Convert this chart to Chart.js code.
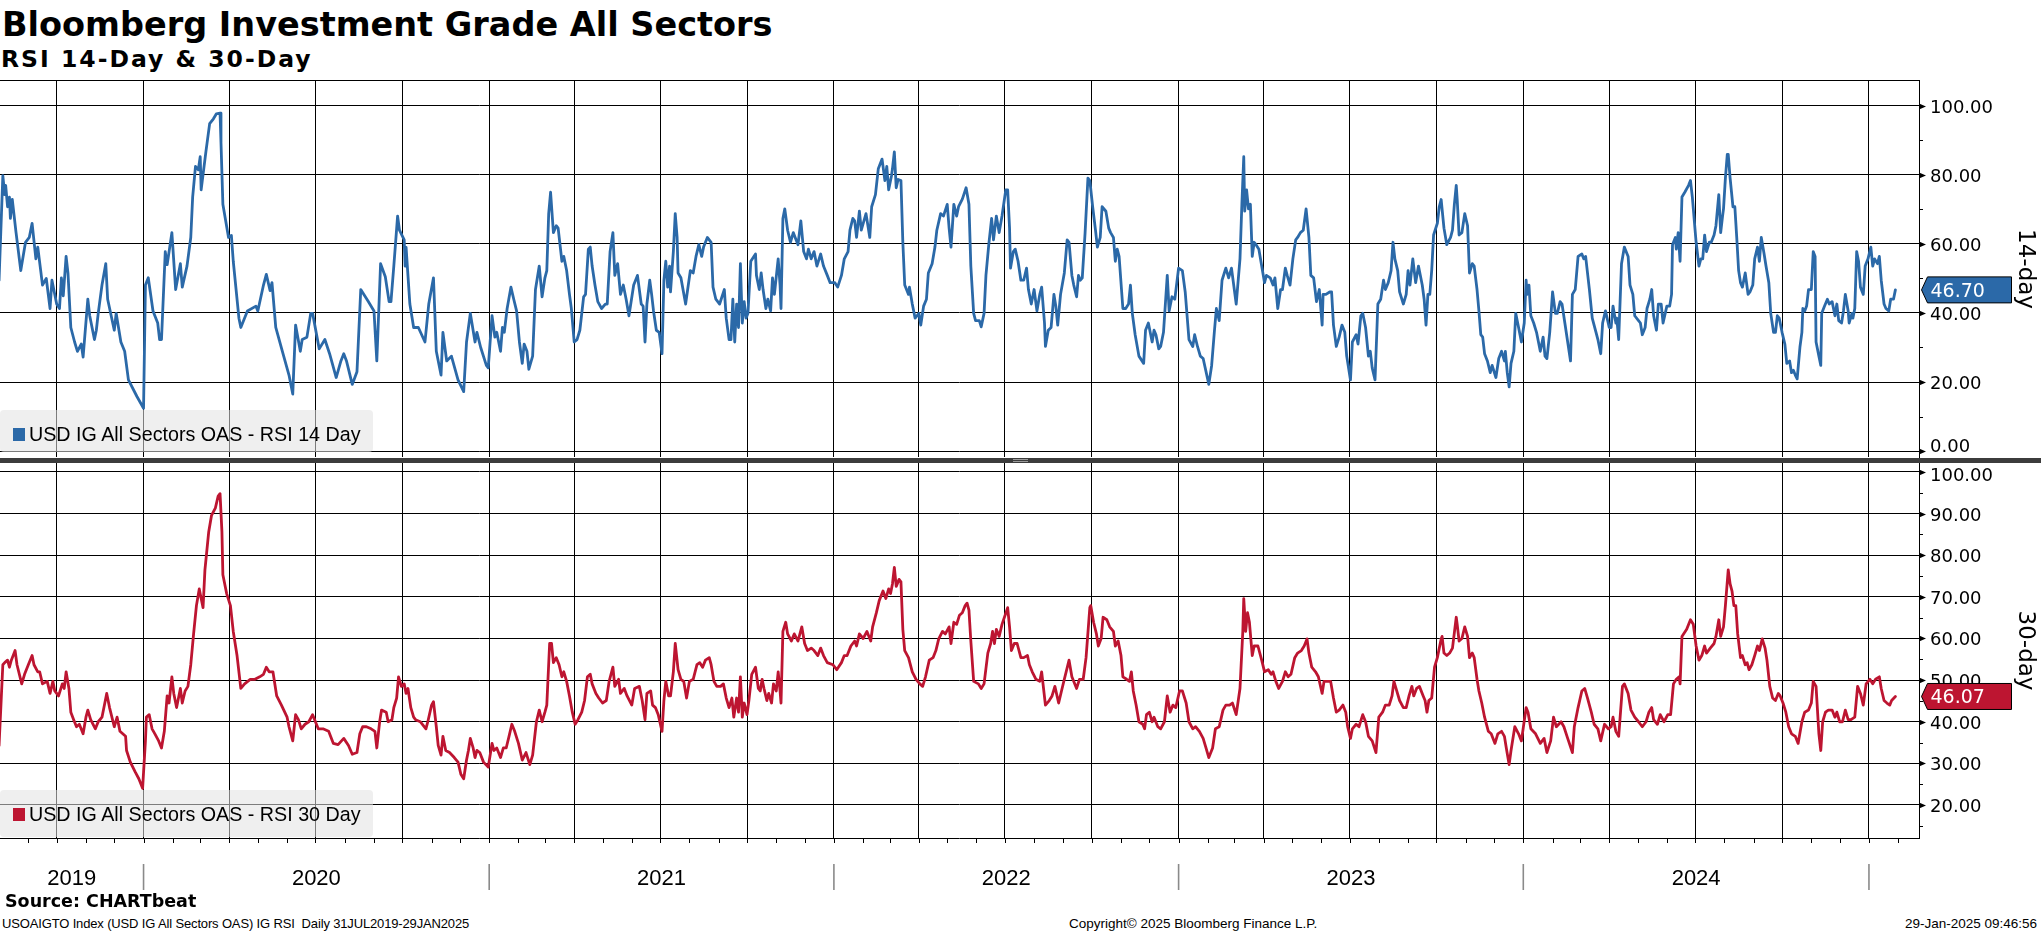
<!DOCTYPE html>
<html>
<head>
<meta charset="utf-8">
<script src="https://cdn.jsdelivr.net/npm/chart.js@4.4.1/dist/chart.umd.min.js"></script>
<style>
html, body { margin: 0; padding: 0; background: #fff; }
body { width: 2041px; height: 932px; position: relative; overflow: hidden; font-family: "DejaVu Sans", sans-serif; color: #000; }
.abs { position: absolute; white-space: nowrap; }
#title { left: 2px; top: 8px; font: bold 33.5px/1 "DejaVu Sans"; }
#subtitle { left: 1px; top: 48px; font: bold 23.5px/1 "DejaVu Sans"; letter-spacing: 2px; }
canvas { position: absolute; left: 0; }
#cTop { top: 78px; }
#cBot { top: 460px; }
#topLine { left: 0; top: 80px; width: 1920px; height: 1px; background: #000; }
#sep { left: 0; top: 458px; width: 2041px; height: 5px; background: #3c3c3c; }
#grip { left: 1013px; top: 459px; width: 15px; height: 1px; border-bottom: 1px solid #9a9a9a; border-top: 1px solid #9a9a9a; }
.legend { position: absolute; left: 0; width: 373px; background: rgba(226,226,226,0.55); border-radius: 4px; }
.legend .sw { position: absolute; left: 13px; top: 18px; width: 12px; height: 13px; }
.legend .tx { position: absolute; left: 29px; top: 15px; font: 19.7px/1 "Liberation Sans"; white-space: nowrap; }
#lgTop { top: 410px; height: 42px; }
#lgBot { top: 790px; height: 47px; }
#source { left: 5px; top: 893px; font: bold 17.5px/1 "DejaVu Sans"; }
#foot1 { left: 2px; top: 917px; font: 13px/1 "Liberation Sans"; letter-spacing: -0.15px; }
#foot2 { left: 1069px; top: 917px; font: 13.5px/1 "Liberation Sans"; }
#foot3 { right: 4px; top: 917px; font: 13.5px/1 "Liberation Sans"; }
</style>
</head>
<body>
<div id="title" class="abs">Bloomberg Investment Grade All Sectors</div>
<div id="subtitle" class="abs">RSI 14-Day &amp; 30-Day</div>
<canvas id="cTop" width="2041" height="382"></canvas>
<canvas id="cBot" width="2041" height="435"></canvas>
<div id="topLine" class="abs"></div>
<div id="sep" class="abs"></div>
<div id="grip" class="abs"></div>
<div id="lgTop" class="legend"><div class="sw" style="background:#2b69a8"></div><div class="tx">USD IG All Sectors OAS - RSI 14 Day</div></div>
<div id="lgBot" class="legend"><div class="sw" style="background:#bd1531"></div><div class="tx">USD IG All Sectors OAS - RSI 30 Day</div></div>
<div id="source" class="abs">Source: CHARTbeat</div>
<div id="foot1" class="abs">USOAIGTO Index (USD IG All Sectors OAS) IG RSI&nbsp; Daily 31JUL2019-29JAN2025</div>
<div id="foot2" class="abs">Copyright© 2025 Bloomberg Finance L.P.</div>
<div id="foot3" class="abs">29-Jan-2025 09:46:56</div>
<script>
// RSI 14-day
const dates14 = [
'2019-08-01','2019-08-05','2019-08-07','2019-08-08','2019-08-10','2019-08-12','2019-08-13','2019-08-15','2019-08-19','2019-08-24','2019-08-29','2019-09-02','2019-09-05','2019-09-09','2019-09-11','2019-09-16','2019-09-20','2019-09-24','2019-09-26','2019-10-01','2019-10-04','2019-10-06','2019-10-08','2019-10-11','2019-10-13','2019-10-16','2019-10-20','2019-10-23','2019-10-27','2019-10-29','2019-11-03','2019-11-05','2019-11-10','2019-11-12','2019-11-14','2019-11-18','2019-11-22','2019-11-24','2019-12-01','2019-12-03','2019-12-08','2019-12-12','2019-12-16','2019-12-25',
'2020-01-01','2020-01-03','2020-01-06','2020-01-11','2020-01-16','2020-01-18','2020-01-20','2020-01-24','2020-01-26','2020-01-31','2020-02-04','2020-02-09','2020-02-11','2020-02-16','2020-02-20','2020-02-22','2020-02-25','2020-02-28','2020-03-01','2020-03-02','2020-03-07','2020-03-11','2020-03-15','2020-03-18','2020-03-22','2020-03-23','2020-03-25','2020-03-31','2020-04-03','2020-04-05','2020-04-11','2020-04-13','2020-04-20','2020-04-29','2020-05-01','2020-05-07','2020-05-10','2020-05-14','2020-05-16','2020-05-20','2020-05-27','2020-06-03','2020-06-07','2020-06-10','2020-06-15','2020-06-17','2020-06-22','2020-06-26','2020-06-28','2020-07-05','2020-07-11','2020-07-16','2020-07-23','2020-07-28','2020-07-31','2020-08-03','2020-08-09','2020-08-14','2020-08-18','2020-08-26','2020-09-01','2020-09-04','2020-09-08','2020-09-13','2020-09-17','2020-09-19','2020-09-22','2020-09-26','2020-09-28','2020-10-03','2020-10-04','2020-10-05','2020-10-09','2020-10-13','2020-10-18','2020-10-25','2020-10-29','2020-11-03','2020-11-06','2020-11-11','2020-11-13','2020-11-17','2020-11-22','2020-11-29','2020-12-05','2020-12-08','2020-12-12','2020-12-17','2020-12-19','2020-12-23','2020-12-29','2020-12-31',
'2021-01-04','2021-01-07','2021-01-09','2021-01-13','2021-01-15','2021-01-17','2021-01-20','2021-01-24','2021-01-27','2021-01-30','2021-02-02','2021-02-05','2021-02-07','2021-02-10','2021-02-12','2021-02-16','2021-02-19','2021-02-23','2021-02-26','2021-03-01','2021-03-03','2021-03-05','2021-03-07','2021-03-10','2021-03-13','2021-03-15','2021-03-19','2021-03-21','2021-03-24','2021-03-27','2021-03-29','2021-04-01','2021-04-04','2021-04-07','2021-04-11','2021-04-13','2021-04-16','2021-04-18','2021-04-20','2021-04-23','2021-04-26','2021-04-30','2021-05-04','2021-05-06','2021-05-09','2021-05-12','2021-05-14','2021-05-17','2021-05-20','2021-05-23','2021-05-26','2021-05-29','2021-06-03','2021-06-07','2021-06-11','2021-06-13','2021-06-15','2021-06-17','2021-06-20','2021-06-22','2021-06-24','2021-06-27','2021-06-30','2021-07-03','2021-07-05','2021-07-07','2021-07-09','2021-07-11','2021-07-12','2021-07-15','2021-07-17','2021-07-19','2021-07-20','2021-07-23','2021-07-28','2021-08-02','2021-08-05','2021-08-08','2021-08-11','2021-08-14','2021-08-16','2021-08-20','2021-08-24','2021-08-26','2021-08-29','2021-09-02','2021-09-07','2021-09-09','2021-09-12','2021-09-14','2021-09-16','2021-09-18','2021-09-20','2021-09-22','2021-09-24','2021-09-26','2021-09-28','2021-09-30','2021-10-02','2021-10-05','2021-10-10','2021-10-11','2021-10-14','2021-10-16','2021-10-18','2021-10-21','2021-10-23','2021-10-26','2021-10-28','2021-10-30','2021-11-03','2021-11-05','2021-11-06','2021-11-08','2021-11-10','2021-11-13','2021-11-16','2021-11-19','2021-11-21','2021-11-24','2021-11-27','2021-11-30','2021-12-03','2021-12-05','2021-12-08','2021-12-11','2021-12-14','2021-12-18','2021-12-21','2021-12-25','2021-12-28',
'2022-01-02','2022-01-05','2022-01-09','2022-01-12','2022-01-16','2022-01-18','2022-01-21','2022-01-23','2022-01-25','2022-01-28','2022-01-30','2022-02-04','2022-02-08','2022-02-10','2022-02-14','2022-02-17','2022-02-21','2022-02-24','2022-02-26','2022-02-28','2022-03-03','2022-03-04','2022-03-06','2022-03-08','2022-03-10','2022-03-13','2022-03-15','2022-03-17','2022-03-21','2022-03-22','2022-03-25','2022-03-28','2022-04-01','2022-04-03','2022-04-06','2022-04-09','2022-04-11','2022-04-15','2022-04-18','2022-04-20','2022-04-24','2022-04-27','2022-05-01','2022-05-03','2022-05-05','2022-05-08','2022-05-11','2022-05-13','2022-05-17','2022-05-21','2022-05-24','2022-05-26','2022-05-29','2022-05-31','2022-06-04','2022-06-06','2022-06-09','2022-06-11','2022-06-14','2022-06-17','2022-06-19','2022-06-22','2022-06-25','2022-06-28','2022-07-02','2022-07-04','2022-07-06','2022-07-07','2022-07-10','2022-07-12','2022-07-15','2022-07-18','2022-07-21','2022-07-24','2022-07-26','2022-07-29','2022-08-01','2022-08-04','2022-08-07','2022-08-09','2022-08-12','2022-08-13','2022-08-16','2022-08-19','2022-08-22','2022-08-24','2022-08-26','2022-08-29','2022-09-02','2022-09-05','2022-09-07','2022-09-10','2022-09-12','2022-09-15','2022-09-17','2022-09-19','2022-09-21','2022-09-24','2022-09-27','2022-09-29','2022-10-02','2022-10-05','2022-10-07','2022-10-10','2022-10-12','2022-10-16','2022-10-19','2022-10-21','2022-10-24','2022-10-26','2022-10-28','2022-10-30','2022-11-03','2022-11-06','2022-11-09','2022-11-11','2022-11-13','2022-11-16','2022-11-20','2022-11-25','2022-11-27','2022-11-30','2022-12-04','2022-12-06','2022-12-08','2022-12-11','2022-12-13','2022-12-16','2022-12-20','2022-12-22','2022-12-25','2022-12-28',
'2023-01-01','2023-01-05','2023-01-08','2023-01-12','2023-01-16','2023-01-18','2023-01-21','2023-01-24','2023-01-27','2023-02-02','2023-02-05','2023-02-08','2023-02-10','2023-02-13','2023-02-16','2023-02-20','2023-02-23','2023-02-26','2023-03-03','2023-03-07','2023-03-09','2023-03-11','2023-03-12','2023-03-14','2023-03-16','2023-03-18','2023-03-20','2023-03-22','2023-03-24','2023-03-27','2023-03-30','2023-04-02','2023-04-04','2023-04-08','2023-04-11','2023-04-13','2023-04-16','2023-04-19','2023-04-21','2023-04-24','2023-04-26','2023-04-29','2023-05-02','2023-05-05','2023-05-07','2023-05-10','2023-05-13','2023-05-16','2023-05-19','2023-05-21','2023-05-24','2023-05-27','2023-05-30','2023-06-02','2023-06-03','2023-06-06','2023-06-10','2023-06-12','2023-06-14','2023-06-17','2023-06-20','2023-06-23','2023-06-26','2023-06-28','2023-07-02','2023-07-04','2023-07-08','2023-07-10','2023-07-13','2023-07-15','2023-07-18','2023-07-21','2023-07-23','2023-07-25','2023-07-28','2023-07-31','2023-08-03','2023-08-06','2023-08-08','2023-08-11','2023-08-14','2023-08-16','2023-08-18','2023-08-21','2023-08-23','2023-08-27','2023-08-30','2023-09-01','2023-09-03','2023-09-06','2023-09-09','2023-09-12','2023-09-16','2023-09-18','2023-09-20','2023-09-22','2023-09-24','2023-09-26','2023-09-28','2023-10-02','2023-10-04','2023-10-06','2023-10-09','2023-10-12','2023-10-16','2023-10-18','2023-10-20','2023-10-22','2023-10-23','2023-10-25','2023-10-28','2023-10-31','2023-11-03','2023-11-05','2023-11-08','2023-11-10','2023-11-13','2023-11-15','2023-11-17','2023-11-19','2023-11-21','2023-11-24','2023-11-27','2023-11-29','2023-12-03','2023-12-06','2023-12-09','2023-12-12','2023-12-13','2023-12-15','2023-12-17','2023-12-19','2023-12-22','2023-12-24','2023-12-27','2023-12-30',
'2024-01-02','2024-01-04','2024-01-05','2024-01-07','2024-01-09','2024-01-12','2024-01-15','2024-01-19','2024-01-22','2024-01-24','2024-01-26','2024-01-29','2024-02-01','2024-02-04','2024-02-06','2024-02-09','2024-02-11','2024-02-14','2024-02-17','2024-02-20','2024-02-22','2024-02-25','2024-02-28','2024-03-03','2024-03-05','2024-03-07','2024-03-11','2024-03-14','2024-03-18','2024-03-20','2024-03-23','2024-03-25','2024-03-28','2024-04-01','2024-04-03','2024-04-05','2024-04-08','2024-04-09','2024-04-11','2024-04-14','2024-04-17','2024-04-21','2024-04-23','2024-04-26','2024-04-28','2024-05-02','2024-05-04','2024-05-06','2024-05-09','2024-05-11','2024-05-14','2024-05-16','2024-05-18','2024-05-21','2024-05-23','2024-05-26','2024-05-28','2024-06-01','2024-06-04','2024-06-06','2024-06-07','2024-06-10','2024-06-11','2024-06-13','2024-06-15','2024-06-17','2024-06-20','2024-06-24','2024-06-26','2024-06-28','2024-07-02','2024-07-05','2024-07-07','2024-07-09','2024-07-11','2024-07-13','2024-07-16','2024-07-18','2024-07-21','2024-07-23','2024-07-26','2024-07-28','2024-07-30','2024-07-31','2024-08-02','2024-08-04','2024-08-05','2024-08-07','2024-08-10','2024-08-12','2024-08-14','2024-08-16','2024-08-18','2024-08-20','2024-08-23','2024-08-26','2024-08-28','2024-08-31','2024-09-02','2024-09-05','2024-09-07','2024-09-09','2024-09-12','2024-09-14','2024-09-17','2024-09-19','2024-09-22','2024-09-24','2024-09-26','2024-09-28','2024-10-01','2024-10-04','2024-10-06','2024-10-09','2024-10-11','2024-10-13','2024-10-15','2024-10-17','2024-10-20','2024-10-22','2024-10-23','2024-10-25','2024-10-27','2024-10-29','2024-11-01','2024-11-03','2024-11-05','2024-11-06','2024-11-09','2024-11-11','2024-11-12','2024-11-15','2024-11-18','2024-11-20','2024-11-23','2024-11-26','2024-11-28','2024-11-30','2024-12-03','2024-12-05','2024-12-07','2024-12-10','2024-12-11','2024-12-14','2024-12-15','2024-12-17','2024-12-19','2024-12-21','2024-12-23','2024-12-26','2024-12-28','2024-12-31',
'2025-01-03','2025-01-05','2025-01-07','2025-01-10','2025-01-12','2025-01-14','2025-01-17','2025-01-19','2025-01-22','2025-01-24','2025-01-27','2025-01-29'
];
const rsi14 = [
49.5,79.8,74.3,77.0,70.8,73.6,67.4,72.9,63.3,52.3,60.5,61.9,66.0,55.7,59.1,48.1,50.0,41.3,49.5,42.6,41.3,50.2,45.0,56.4,51.5,35.8,31.6,28.9,31.0,27.2,44.0,39.2,32.3,35.0,39.9,48.1,54.3,44.0,35.0,39.9,31.6,28.9,20.6,15.8,
12.4,48.1,50.2,40.6,37.1,32.3,32.3,57.8,54.0,63.3,46.8,54.3,47.5,53.6,61.9,73.6,82.5,81.5,85.3,75.7,86.7,94.9,96.3,97.7,97.9,89.4,71.5,61.9,62.5,55.0,38.5,35.8,40.6,42.0,40.6,48.1,51.2,46.5,48.8,35.8,28.9,22.0,16.5,36.5,28.9,32.3,33.0,39.9,39.9,29.6,32.3,28.2,21.3,26.1,28.2,26.0,19.3,23.0,46.8,43.3,40.6,26.1,54.3,50.5,43.3,43.3,53.6,68.1,64.0,61.2,53.6,59.0,42.6,35.8,35.8,31.6,42.6,50.2,28.9,22.0,34.4,26.1,27.5,20.6,17.2,31.6,39.9,31.6,34.4,30.0,24.8,24.1,
39.2,33.0,34.4,28.9,35.8,34.4,41.3,47.5,44.0,40.6,31.6,25.4,31.0,28.9,23.7,27.5,46.8,53.6,44.7,50.2,52.3,68.8,75.0,63.3,65.3,64.6,55.0,56.4,52.3,45.4,41.3,31.6,32.3,35.0,44.7,45.4,58.5,59.1,53.6,48.1,43.3,41.3,42.6,42.6,57.8,63.3,50.9,54.3,45.4,48.1,44.0,39.2,48.1,50.9,42.6,42.0,31.6,42.6,49.5,45.4,40.6,35.0,34.4,28.2,49.5,55.0,47.5,53.6,46.1,57.8,68.8,61.9,51.6,50.2,42.6,52.3,51.6,56.4,59.8,56.4,59.1,61.9,60.5,47.5,44.0,42.6,46.8,38.5,32.3,32.3,44.0,31.6,42.6,35.8,54.3,37.1,43.3,38.5,39.9,55.0,57.1,50.9,46.8,51.6,46.8,41.3,44.0,40.6,50.2,45.4,55.7,48.1,41.3,67.4,70.2,64.0,60.5,63.3,61.9,59.8,66.7,57.8,55.7,58.5,55.7,57.8,53.6,57.1,53.6,50.9,48.8,
48.8,47.5,50.9,55.7,57.8,64.0,67.4,66.7,61.9,69.5,64.0,68.8,61.9,70.8,74.3,81.8,84.6,78.4,82.5,75.7,79.8,81.8,86.7,76.3,78.7,78.4,60.5,48.1,45.4,47.5,42.6,38.5,39.9,36.5,42.0,44.0,51.6,54.3,59.1,64.0,68.8,68.1,71.5,64.6,59.1,71.5,68.1,70.8,73.0,76.3,71.5,53.6,39.9,37.8,37.8,36.0,39.9,50.9,59.8,67.4,61.2,68.1,63.3,68.1,75.7,75.7,64.6,53.0,57.8,58.5,55.0,49.5,49.5,53.0,46.8,42.6,46.8,40.6,45.4,47.5,37.1,30.3,35.0,35.8,45.4,42.0,36.5,45.4,51.6,61.2,60.5,50.9,48.1,44.7,50.9,49.5,50.2,63.3,79.1,78.4,70.8,64.0,59.1,61.9,70.8,69.5,64.6,63.3,61.9,55.0,58.5,56.4,41.3,41.3,42.6,48.1,39.9,33.7,27.5,25.4,35.0,37.1,31.6,35.0,33.7,29.6,30.3,34.4,50.9,40.6,44.7,44.0,
53.0,52.3,46.1,32.3,30.3,33.7,30.3,27.5,26.8,19.3,24.8,35.0,41.3,37.8,49.5,53.0,50.2,53.0,42.6,55.7,71.5,85.3,69.5,75.7,70.2,71.5,56.4,60.5,59.8,58.5,53.6,48.8,50.9,50.2,48.1,50.2,41.3,46.8,46.8,53.0,50.9,48.1,55.7,61.2,61.9,63.3,64.0,70.2,61.9,50.9,50.2,43.3,46.8,36.5,45.4,45.4,46.1,46.1,36.5,30.3,33.0,36.5,34.4,27.5,20.6,31.6,33.7,31.0,39.2,39.9,35.8,27.5,28.9,24.1,20.6,42.6,44.0,49.5,46.8,48.8,52.3,60.5,55.7,52.3,46.1,42.6,45.4,52.3,48.1,55.7,48.8,53.6,48.1,44.0,36.5,45.4,45.4,52.3,62.6,66.0,70.8,72.9,64.6,59.8,61.9,64.0,71.5,77.0,72.9,62.6,63.3,68.8,65.3,51.6,54.3,53.6,46.8,40.6,33.7,33.0,28.2,26.1,22.7,24.8,21.3,26.8,28.9,26.1,28.9,22.7,18.6,25.4,28.9,39.9,35.8,31.6,
37.1,49.5,45.4,48.1,39.2,37.1,34.4,28.9,33.0,27.5,26.8,34.4,46.1,39.9,39.9,43.3,42.6,37.1,31.6,26.1,45.4,46.8,56.4,57.1,55.7,56.4,46.8,38.5,34.4,32.3,28.2,37.1,40.6,35.8,35.8,42.0,37.1,38.5,32.3,54.3,59.1,56.4,48.1,45.4,39.2,37.8,37.1,33.7,35.8,41.3,44.0,46.8,39.2,35.0,42.6,42.6,37.1,42.0,42.0,45.4,59.8,61.9,58.5,63.3,55.0,73.6,75.0,77.0,78.4,73.6,60.5,53.6,55.7,55.7,62.6,57.8,60.5,60.5,62.6,65.3,74.3,63.3,68.1,70.2,79.1,86.0,86.0,79.1,70.8,70.8,61.9,52.3,48.8,47.5,51.6,45.4,46.1,48.1,55.7,59.1,55.0,61.9,57.1,53.6,48.8,39.9,34.4,34.4,39.2,38.5,34.4,30.9,25.4,26.1,22.7,23.4,22.0,20.9,30.3,34.4,41.3,40.6,42.0,46.8,46.8,57.8,56.4,31.6,27.5,24.8,39.9,42.0,44.0,42.6,43.3,39.2,42.6,37.8,37.1,40.6,45.4,40.6,37.1,39.9,38.5,41.3,57.8,55.0,47.5,45.4,53.6,55.7,
59.1,53.6,55.7,54.3,56.4,49.5,42.6,41.3,40.6,44.0,44.0,46.7
];

// RSI 30-day
const dates30 = [
'2019-08-01','2019-08-05','2019-08-07','2019-08-10','2019-08-12','2019-08-14','2019-08-18','2019-08-20','2019-08-25','2019-08-28','2019-09-01','2019-09-05','2019-09-07','2019-09-11','2019-09-13','2019-09-16','2019-09-21','2019-09-24','2019-09-27','2019-09-29','2019-10-03','2019-10-07','2019-10-09','2019-10-11','2019-10-14','2019-10-16','2019-10-19','2019-10-22','2019-10-25','2019-10-29','2019-11-01','2019-11-03','2019-11-06','2019-11-11','2019-11-14','2019-11-18','2019-11-23','2019-11-26','2019-12-01','2019-12-04','2019-12-07','2019-12-13','2019-12-14','2019-12-18','2019-12-23','2019-12-27','2019-12-31',
'2020-01-03','2020-01-04','2020-01-07','2020-01-10','2020-01-13','2020-01-17','2020-01-20','2020-01-23','2020-01-26','2020-01-28','2020-01-31','2020-02-02','2020-02-05','2020-02-09','2020-02-11','2020-02-14','2020-02-17','2020-02-20','2020-02-23','2020-02-26','2020-02-29','2020-03-02','2020-03-04','2020-03-06','2020-03-10','2020-03-13','2020-03-17','2020-03-20','2020-03-22','2020-03-24','2020-03-25','2020-03-29','2020-04-02','2020-04-05','2020-04-09','2020-04-13','2020-04-17','2020-04-23','2020-04-28','2020-05-03','2020-05-07','2020-05-10','2020-05-13','2020-05-17','2020-05-21','2020-05-26','2020-06-01','2020-06-03','2020-06-07','2020-06-10','2020-06-13','2020-06-16','2020-06-20','2020-06-24','2020-06-28','2020-07-01','2020-07-04','2020-07-09','2020-07-15','2020-07-20','2020-07-25','2020-07-31','2020-08-05','2020-08-09','2020-08-14','2020-08-17','2020-08-20','2020-08-24','2020-08-29','2020-09-02','2020-09-04','2020-09-07','2020-09-09','2020-09-14','2020-09-16','2020-09-20','2020-09-22','2020-09-25','2020-09-27','2020-09-30','2020-10-03','2020-10-05','2020-10-07','2020-10-10','2020-10-13','2020-10-15','2020-10-20','2020-10-26','2020-10-28','2020-11-01','2020-11-03','2020-11-06','2020-11-08','2020-11-11','2020-11-13','2020-11-16','2020-11-20','2020-11-25','2020-11-29','2020-12-02','2020-12-05','2020-12-08','2020-12-10','2020-12-12','2020-12-15','2020-12-17','2020-12-19','2020-12-22','2020-12-26','2020-12-31',
'2021-01-04','2021-01-06','2021-01-09','2021-01-13','2021-01-16','2021-01-19','2021-01-22','2021-01-25','2021-01-28','2021-02-01','2021-02-05','2021-02-09','2021-02-13','2021-02-16','2021-02-20','2021-02-23','2021-02-26','2021-03-01','2021-03-03','2021-03-06','2021-03-08','2021-03-10','2021-03-13','2021-03-16','2021-03-19','2021-03-21','2021-03-24','2021-03-27','2021-03-30','2021-04-02','2021-04-05','2021-04-09','2021-04-12','2021-04-15','2021-04-18','2021-04-20','2021-04-24','2021-04-27','2021-05-01','2021-05-05','2021-05-08','2021-05-12','2021-05-14','2021-05-18','2021-05-20','2021-05-24','2021-05-27','2021-06-01','2021-06-04','2021-06-09','2021-06-12','2021-06-15','2021-06-17','2021-06-21','2021-06-23','2021-06-26','2021-06-29','2021-07-03','2021-07-05','2021-07-07','2021-07-10','2021-07-12','2021-07-15','2021-07-17','2021-07-20','2021-07-23','2021-07-26','2021-07-29','2021-08-01','2021-08-05','2021-08-09','2021-08-12','2021-08-15','2021-08-18','2021-08-22','2021-08-24','2021-08-27','2021-08-30','2021-09-03','2021-09-06','2021-09-09','2021-09-12','2021-09-15','2021-09-17','2021-09-20','2021-09-22','2021-09-24','2021-09-26','2021-09-28','2021-10-01','2021-10-03','2021-10-06','2021-10-10','2021-10-13','2021-10-15','2021-10-17','2021-10-19','2021-10-22','2021-10-24','2021-10-27','2021-10-29','2021-11-01','2021-11-03','2021-11-05','2021-11-06','2021-11-08','2021-11-11','2021-11-13','2021-11-17','2021-11-20','2021-11-24','2021-11-28','2021-12-01','2021-12-04','2021-12-08','2021-12-11','2021-12-15','2021-12-18','2021-12-21','2021-12-25','2021-12-31',
'2022-01-04','2022-01-09','2022-01-12','2022-01-15','2022-01-19','2022-01-23','2022-01-25','2022-01-28','2022-02-01','2022-02-05','2022-02-09','2022-02-11','2022-02-15','2022-02-18','2022-02-22','2022-02-25','2022-02-28','2022-03-02','2022-03-04','2022-03-06','2022-03-08','2022-03-11','2022-03-13','2022-03-15','2022-03-17','2022-03-21','2022-03-25','2022-03-29','2022-04-02','2022-04-05','2022-04-08','2022-04-12','2022-04-16','2022-04-19','2022-04-22','2022-04-26','2022-04-29','2022-05-03','2022-05-05','2022-05-08','2022-05-11','2022-05-14','2022-05-17','2022-05-20','2022-05-22','2022-05-24','2022-05-26','2022-05-29','2022-06-03','2022-06-06','2022-06-09','2022-06-13','2022-06-16','2022-06-18','2022-06-20','2022-06-22','2022-06-25','2022-06-28','2022-07-04','2022-07-06','2022-07-08','2022-07-11','2022-07-14','2022-07-18','2022-07-21','2022-07-25','2022-07-27','2022-07-30','2022-08-03','2022-08-07','2022-08-09','2022-08-13','2022-08-17','2022-08-20','2022-08-23','2022-08-27','2022-08-30','2022-09-02','2022-09-07','2022-09-10','2022-09-15','2022-09-18','2022-09-22','2022-09-25','2022-09-29','2022-09-30','2022-10-03','2022-10-06','2022-10-08','2022-10-11','2022-10-13','2022-10-17','2022-10-20','2022-10-24','2022-10-26','2022-10-29','2022-11-01','2022-11-03','2022-11-07','2022-11-10','2022-11-12','2022-11-14','2022-11-17','2022-11-20','2022-11-24','2022-11-26','2022-11-28','2022-12-01','2022-12-04','2022-12-06','2022-12-10','2022-12-13','2022-12-17','2022-12-20','2022-12-23','2022-12-26','2022-12-29',
'2023-01-02','2023-01-05','2023-01-09','2023-01-12','2023-01-16','2023-01-19','2023-01-23','2023-01-27','2023-01-30','2023-02-02','2023-02-06','2023-02-09','2023-02-13','2023-02-17','2023-02-20','2023-02-24','2023-02-27','2023-03-03','2023-03-07','2023-03-10','2023-03-11','2023-03-13','2023-03-15','2023-03-17','2023-03-20','2023-03-22','2023-03-26','2023-03-30','2023-04-02','2023-04-06','2023-04-09','2023-04-11','2023-04-14','2023-04-17','2023-04-21','2023-04-24','2023-04-27','2023-04-30','2023-05-04','2023-05-07','2023-05-11','2023-05-14','2023-05-17','2023-05-19','2023-05-22','2023-05-26','2023-05-29','2023-06-02','2023-06-04','2023-06-08','2023-06-11','2023-06-14','2023-06-17','2023-06-20','2023-06-24','2023-06-27','2023-06-29','2023-07-02','2023-07-04','2023-07-08','2023-07-11','2023-07-15','2023-07-18','2023-07-21','2023-07-25','2023-07-29','2023-08-01','2023-08-05','2023-08-08','2023-08-12','2023-08-15','2023-08-17','2023-08-20','2023-08-23','2023-08-27','2023-08-30','2023-09-02','2023-09-05','2023-09-07','2023-09-10','2023-09-13','2023-09-17','2023-09-19','2023-09-21','2023-09-23','2023-09-26','2023-09-29','2023-10-02','2023-10-06','2023-10-07','2023-10-09','2023-10-12','2023-10-15','2023-10-18','2023-10-22','2023-10-23','2023-10-25','2023-10-28','2023-10-31','2023-11-03','2023-11-05','2023-11-08','2023-11-10','2023-11-13','2023-11-15','2023-11-18','2023-11-21','2023-11-25','2023-11-28','2023-12-02','2023-12-05','2023-12-09','2023-12-12','2023-12-14','2023-12-17','2023-12-19','2023-12-23','2023-12-27','2023-12-30',
'2024-01-04','2024-01-06','2024-01-09','2024-01-14','2024-01-19','2024-01-23','2024-01-26','2024-01-30','2024-02-02','2024-02-05','2024-02-10','2024-02-13','2024-02-17','2024-02-22','2024-02-24','2024-02-28','2024-03-03','2024-03-06','2024-03-09','2024-03-13','2024-03-16','2024-03-20','2024-03-23','2024-03-27','2024-03-31','2024-04-03','2024-04-05','2024-04-08','2024-04-11','2024-04-15','2024-04-17','2024-04-21','2024-04-24','2024-04-28','2024-05-02','2024-05-06','2024-05-10','2024-05-13','2024-05-16','2024-05-18','2024-05-22','2024-05-25','2024-05-29','2024-06-02','2024-06-05','2024-06-08','2024-06-11','2024-06-14','2024-06-15','2024-06-17','2024-06-22','2024-06-26','2024-06-29','2024-07-02','2024-07-05','2024-07-08','2024-07-11','2024-07-13','2024-07-17','2024-07-21','2024-07-23','2024-07-26','2024-07-28','2024-07-31','2024-08-02','2024-08-05','2024-08-07','2024-08-09','2024-08-11','2024-08-13','2024-08-15','2024-08-18','2024-08-20','2024-08-23','2024-08-25','2024-08-27','2024-08-30','2024-09-02','2024-09-05','2024-09-07','2024-09-10','2024-09-13','2024-09-15','2024-09-18','2024-09-21','2024-09-24','2024-09-27','2024-09-29','2024-10-02','2024-10-05','2024-10-08','2024-10-11','2024-10-15','2024-10-18','2024-10-22','2024-10-25','2024-10-29','2024-11-01','2024-11-03','2024-11-06','2024-11-09','2024-11-11','2024-11-13','2024-11-16','2024-11-19','2024-11-23','2024-11-26','2024-11-28','2024-12-01','2024-12-04','2024-12-07','2024-12-10','2024-12-13','2024-12-17','2024-12-20','2024-12-23','2024-12-26','2024-12-29',
'2025-01-02','2025-01-05','2025-01-08','2025-01-12','2025-01-14','2025-01-17','2025-01-20','2025-01-23','2025-01-25','2025-01-29'
];
const rsi30 = [
34.3,53.7,54.2,54.8,53.1,54.8,57.1,53.7,49.1,51.4,53.7,55.9,53.7,52.0,52.0,49.1,49.7,46.8,49.7,47.4,46.2,49.1,48.0,52.0,48.0,42.3,40.5,38.8,39.4,37.1,41.1,42.8,40.5,38.3,40.0,41.1,46.8,43.4,38.8,41.1,37.7,36.5,33.1,30.3,28.0,26.3,24.0,
35.4,41.1,41.7,38.3,37.1,35.4,33.7,37.7,46.2,44.5,50.8,46.8,43.4,48.0,44.5,47.4,48.5,53.7,61.1,67.9,71.9,69.6,67.4,76.5,85.6,89.6,91.3,94.2,94.8,85.6,75.3,70.8,67.9,61.7,55.9,48.0,49.1,50.2,50.2,50.8,51.4,53.1,52.0,52.0,46.2,44.0,41.1,38.8,35.4,41.7,40.5,38.3,39.4,40.0,41.7,40.0,38.3,38.3,37.7,34.8,34.5,36.0,34.3,32.2,32.6,37.1,38.8,38.8,38.3,37.7,33.7,40.0,42.8,42.3,40.0,40.5,43.4,45.7,50.8,48.5,49.1,46.8,48.0,43.4,41.1,40.5,40.0,38.3,40.0,44.0,44.8,38.8,34.3,32.0,36.5,33.1,32.6,31.4,30.3,27.4,26.3,30.8,33.1,36.0,33.7,31.4,33.1,32.6,30.3,29.1,
34.8,33.1,33.7,31.4,33.7,33.7,36.5,39.4,37.7,34.8,30.8,32.6,29.7,32.0,40.0,42.8,40.0,42.3,44.0,58.8,58.8,54.2,55.4,53.7,50.8,52.0,49.7,46.2,42.3,39.4,40.5,42.3,45.1,50.8,51.4,49.1,46.8,45.7,44.5,45.1,49.7,53.1,48.5,50.2,46.8,48.0,46.2,44.0,48.0,48.5,45.1,40.5,46.8,47.4,44.0,43.4,41.7,37.7,45.1,49.7,46.2,46.2,52.0,58.8,52.5,50.2,49.7,45.7,49.7,50.2,53.7,54.2,53.1,54.8,55.4,53.7,49.7,48.5,48.5,49.1,45.7,43.4,45.7,41.1,45.7,42.3,50.8,41.1,44.5,41.7,45.1,51.4,53.1,48.0,47.4,50.2,48.0,45.1,46.8,44.5,49.1,47.4,52.0,47.4,44.5,61.7,63.9,61.1,59.4,61.1,59.4,62.8,58.8,57.1,57.7,57.1,55.9,57.7,55.9,54.2,53.7,
52.5,54.2,55.9,55.9,58.2,59.4,58.2,61.1,60.0,61.7,59.4,62.8,66.2,69.1,71.4,69.6,71.9,70.8,73.1,77.1,72.5,74.2,73.6,62.2,57.1,55.4,52.0,50.2,49.1,48.5,50.8,54.8,55.4,57.1,59.9,61.7,61.1,62.8,58.8,63.9,63.4,65.6,66.2,67.9,68.5,66.8,59.4,49.7,49.1,48.0,49.1,56.5,58.8,61.7,58.8,62.2,60.5,63.4,67.4,62.8,57.1,58.8,58.8,55.4,55.4,55.9,53.7,52.0,50.2,49.7,52.0,44.0,45.1,46.2,48.5,44.5,47.4,50.2,54.8,50.8,48.0,50.2,50.2,55.4,67.4,67.9,63.9,61.1,58.2,60.0,65.1,64.5,62.8,61.7,58.2,59.4,55.9,50.8,50.2,49.7,52.0,47.4,44.0,40.0,39.4,38.3,41.7,42.3,40.0,41.1,38.8,38.3,40.0,46.2,42.3,44.0,43.4,
47.4,47.4,44.5,40.0,38.3,38.8,37.7,36.0,33.7,31.4,33.7,38.3,38.8,42.8,44.0,44.0,44.5,41.7,48.0,61.7,69.6,61.7,66.2,63.9,55.9,58.2,58.2,54.8,52.0,52.5,51.4,52.0,49.7,48.0,49.7,52.0,50.8,51.4,55.4,56.5,57.1,58.2,59.9,56.5,53.1,52.0,50.8,46.8,49.7,49.7,49.7,45.7,42.3,42.8,44.0,42.3,38.8,36.0,38.3,39.4,38.8,41.7,40.0,36.5,35.4,32.6,41.1,42.3,44.0,44.0,46.2,49.7,47.4,45.1,43.4,43.4,46.2,48.5,46.2,48.0,48.5,46.2,45.1,42.3,45.1,45.7,53.1,55.4,59.9,60.5,56.5,55.9,56.5,57.7,65.1,63.4,59.4,60.0,62.8,60.5,55.4,56.5,55.4,50.2,47.4,44.5,41.1,37.7,37.1,34.8,37.1,37.7,36.5,33.7,29.7,33.1,38.8,37.1,35.4,
43.4,42.3,38.3,37.1,34.8,36.0,32.6,35.4,41.1,38.8,40.0,38.8,36.0,32.6,38.8,43.4,47.4,48.0,45.7,42.3,39.4,38.3,35.4,39.4,38.3,38.8,41.1,37.7,36.5,48.5,49.1,46.8,42.8,41.1,40.0,38.8,40.0,42.3,43.4,40.5,39.4,41.7,40.0,41.7,41.7,49.1,50.2,50.8,49.1,60.5,62.2,64.5,63.4,58.2,54.8,55.9,58.2,56.5,57.7,58.8,60.5,64.5,60.5,62.8,67.9,76.5,73.1,71.4,67.9,67.9,61.1,55.4,55.9,53.7,54.2,52.5,53.7,55.9,58.2,57.1,59.9,57.7,54.8,48.5,45.7,45.1,46.8,46.2,44.5,42.3,38.8,37.1,36.5,34.8,40.0,42.3,42.8,44.5,49.7,48.5,37.1,33.1,40.0,42.3,42.8,42.8,41.1,42.3,40.0,40.0,42.8,40.5,40.5,41.1,48.5,46.8,44.0,49.1,
50.2,49.1,50.2,50.8,48.0,45.1,44.5,44.0,45.1,46.07
];

// axis setup
const xMinDate = '2019-08-02';
const xMaxDate = '2025-02-23';
const yearLabels = ['2019', '2020', '2021', '2022', '2023', '2024', '2025'];
const topMajors = [0, 20, 40, 60, 80, 100];
const topMinors = [10, 30, 50, 70, 90];
const botMajors = [20, 30, 40, 50, 60, 70, 80, 90, 100];
const botMinors = [15, 25, 35, 45, 55, 65, 75, 85, 95];

const BLUE = '#2b69a8';
const RED = '#bd1531';

const toDay = s => Date.parse(s + 'T00:00:00Z') / 864e5;
const dayOf = (y, m) => Date.UTC(y, m, 1) / 864e5;

function quarterTicks(scale) {
  const t = [];
  for (let y = 2019; y <= 2025; y++) {
    for (let m = 0; m < 12; m += 3) {
      const d = dayOf(y, m);
      if (d > scale.min && d < scale.max) t.push({ value: d });
    }
  }
  scale.ticks = t;
}

// right axis labels, tick arrows, last value tag and the time axis below
const axisDecor = {
  id: 'axisDecor',
  afterDraw(chart, args, o) {
    const { ctx, chartArea: a, scales: { x, y } } = chart;
    ctx.save();
    ctx.fillStyle = '#000';
    ctx.strokeStyle = '#000';
    ctx.lineWidth = 1;
    ctx.font = '18px "DejaVu Sans"';
    ctx.textAlign = 'left';
    ctx.textBaseline = 'alphabetic';
    o.majors.forEach(v => {
      const py = Math.round(y.getPixelForValue(v)) + 0.5;
      ctx.beginPath();
      ctx.moveTo(a.right, py - 3);
      ctx.lineTo(a.right + 7, py);
      ctx.lineTo(a.right, py + 3);
      ctx.closePath();
      ctx.fill();
      const base = Math.min(Math.max(py + 6.5, a.top + 18), a.bottom - 5);
      ctx.fillText(v.toFixed(2), a.right + 11, base);
    });
    o.minors.forEach(v => {
      const py = Math.round(y.getPixelForValue(v)) + 0.5;
      ctx.beginPath();
      ctx.moveTo(a.right, py);
      ctx.lineTo(a.right + 4, py);
      ctx.stroke();
    });

    // last value tag
    const ds = chart.data.datasets[0].data;
    const last = ds[ds.length - 1].y;
    const ty = y.getPixelForValue(last);
    const x0 = a.right + 2.5;
    ctx.beginPath();
    ctx.moveTo(x0, ty);
    ctx.lineTo(x0 + 6, ty - 13);
    ctx.lineTo(x0 + 90, ty - 13);
    ctx.lineTo(x0 + 90, ty + 13);
    ctx.lineTo(x0 + 6, ty + 13);
    ctx.closePath();
    ctx.fillStyle = o.color;
    ctx.fill();
    ctx.strokeStyle = '#000';
    ctx.stroke();
    ctx.fillStyle = '#fff';
    ctx.font = '19px "DejaVu Sans"';
    ctx.fillText(last.toFixed(2), x0 + 9, ty + 7);

    if (o.timeAxis) {
      ctx.strokeStyle = '#000';
      ctx.lineWidth = 1;
      ctx.beginPath();
      ctx.moveTo(a.left, Math.round(a.bottom) + 0.5);
      ctx.lineTo(a.right, Math.round(a.bottom) + 0.5);
      ctx.stroke();
      for (let yr = 2019; yr <= 2025; yr++) {
        for (let m = 0; m < 12; m++) {
          const d = dayOf(yr, m);
          if (d <= x.min || d >= x.max) continue;
          const px = Math.round(x.getPixelForValue(d)) + 0.5;
          ctx.beginPath();
          ctx.moveTo(px, a.bottom);
          ctx.lineTo(px, a.bottom + 5);
          ctx.stroke();
        }
      }
      ctx.strokeStyle = '#8a8a8a';
      ctx.lineWidth = 1.6;
      ctx.fillStyle = '#000';
      ctx.font = '22px "Liberation Sans"';
      ctx.textAlign = 'center';
      yearLabels.forEach((lab, i) => {
        const yr = 2019 + i;
        const s = Math.max(x.min, dayOf(yr, 0));
        const e = Math.min(x.max, dayOf(yr + 1, 0));
        if (dayOf(yr, 0) > x.min) {
          const px = x.getPixelForValue(dayOf(yr, 0));
          ctx.beginPath();
          ctx.moveTo(px, a.bottom + 26);
          ctx.lineTo(px, a.bottom + 52);
          ctx.stroke();
        }
        const w = x.getPixelForValue(e) - x.getPixelForValue(s);
        if (w > 120) {
          ctx.fillText(lab, x.getPixelForValue((s + e) / 2), a.bottom + 47);
        }
      });
    }
    ctx.restore();
  }
};

function makeChart(id, dates, values, color, yMin, yMax, majors, minors, title, timeAxis) {
  const pts = dates.map((d, i) => ({ x: toDay(d), y: values[i] }));
  return new Chart(document.getElementById(id), {
    type: 'line',
    data: { datasets: [{ data: pts, borderColor: color, borderWidth: 2.8, pointRadius: 0, tension: 0, borderJoinStyle: 'round', borderCapStyle: 'round' }] },
    plugins: [axisDecor],
    options: {
      responsive: false,
      animation: false,
      parsing: false,
      events: [],
      layout: { padding: { top: 3, bottom: timeAxis ? 0 : 3, left: 0, right: 0 } },
      plugins: {
        legend: { display: false },
        tooltip: { enabled: false },
        axisDecor: { majors: majors, minors: minors, color: color, timeAxis: timeAxis }
      },
      scales: {
        x: {
          type: 'linear',
          min: toDay(xMinDate),
          max: toDay(xMaxDate),
          afterBuildTicks: quarterTicks,
          ticks: { display: false },
          grid: { color: '#000', lineWidth: 1, drawTicks: false },
          border: { display: false },
          afterFit: s => { s.height = timeAxis ? 57 : 0; }
        },
        y: {
          position: 'right',
          min: yMin,
          max: yMax,
          afterBuildTicks: s => { s.ticks = majors.map(v => ({ value: v })); },
          ticks: { display: false },
          grid: { color: '#000', lineWidth: 1, drawTicks: false },
          border: { display: true, color: '#000', width: 1 },
          title: { display: true, text: title, color: '#000', font: { family: 'DejaVu Sans', size: 23 }, padding: { top: 2, bottom: 0 } },
          afterFit: s => { s.width = 122; s.paddingTop = 0; s.paddingBottom = 0; }
        }
      }
    }
  });
}

makeChart('cTop', dates14, rsi14, BLUE, -1.739, 107.246, topMajors, topMinors, '14-day', false);
makeChart('cBot', dates30, rsi30, RED, 12.072, 102.162, botMajors, botMinors, '30-day', true);
</script>
</body>
</html>
